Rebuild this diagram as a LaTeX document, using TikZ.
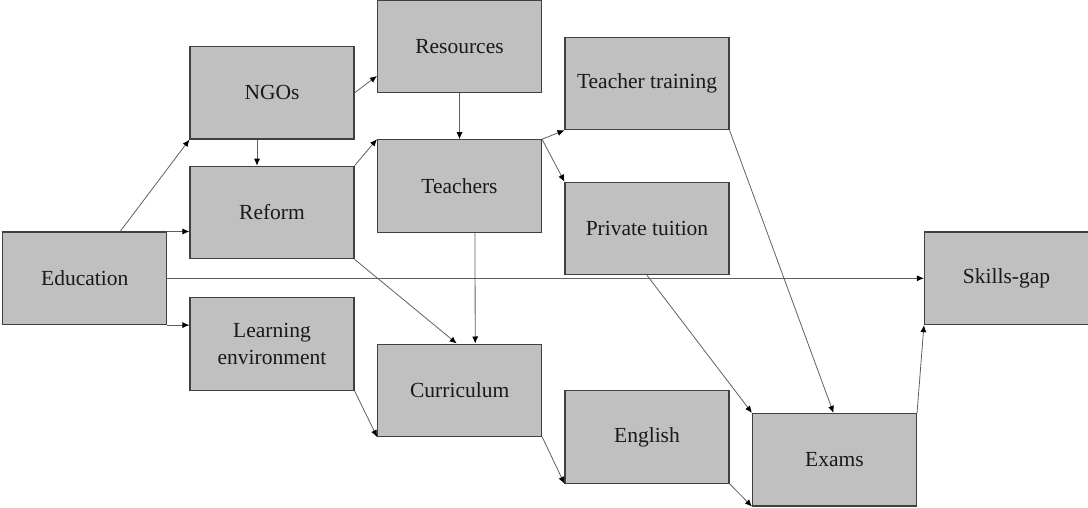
\documentclass[tikz,border=0pt]{standalone}
\usepackage{fontspec}
\setmainfont{Liberation Serif}
\usetikzlibrary{arrows.meta}
\definecolor{boxfill}{HTML}{C0C0C0}
\definecolor{boxline}{HTML}{404040}
\definecolor{conn}{HTML}{606060}
\begin{document}
\begin{tikzpicture}[x=1pt,y=-1pt,
  box/.style={draw=boxline, line width=1.1pt, fill=boxfill, minimum width=164pt, minimum height=92.5pt,
    inner sep=2pt, align=center, text=black!90, font=\fontsize{21.5}{27}\selectfont},
  conn/.style={draw=conn, line width=0.8pt, -{Latex[length=7pt,width=6pt,black]}}]
\useasboundingbox (0,0) rectangle (1088,508);
\node[box] (edu) at (84.7,278.3) {Education};
\node[box] (ngo) at (272,92.8) {NGOs};
\node[box] (reform) at (272,212.5) {Reform};
\node[box] (learn) at (272,344) {Learning\\environment};
\node[box] (res) at (459.5,46.5) {Resources};
\node[box] (teach) at (459.5,186) {Teachers};
\node[box] (curr) at (459.7,390.3) {Curriculum};
\node[box] (tt) at (647,83.5) {Teacher training};
\node[box] (pt) at (647,228.5) {Private tuition};
\node[box] (eng) at (647,437) {English};
\node[box] (exams) at (834.5,459.7) {Exams};
\node[box] (skills) at (1006.5,278.3) {Skills-gap};

\draw[conn] ([xshift=118pt]edu.north west) -- (ngo.south west);
\draw[conn] (edu.north east) -- (reform.west |- edu.north east);
\draw[conn] (edu.south east) -- (learn.west |- edu.south east);
\draw[conn] (edu.east) -- (skills.west);
\draw[conn] ([xshift=-15pt]ngo.south) -- ([xshift=-15pt]reform.north);
\draw[conn] (ngo.east) -- ([yshift=-29.5pt]res.west);
\draw[conn] (reform.north east) -- (teach.north west);
\draw[conn] (reform.south east) -- ([xshift=-3pt]curr.north);
\draw[conn] (learn.south east) -- (curr.south west);
\draw[conn] (res.south) -- (teach.north);
\draw[conn] ([xshift=15.5pt]teach.south) -- ([xshift=15.5pt]curr.north);
\draw[conn] (teach.north east) -- (tt.south west);
\draw[conn] (teach.north east) -- (pt.north west);
\draw[conn] (pt.south) -- (exams.north west);
\draw[conn] (tt.south east) -- ([xshift=-1pt]exams.north);
\draw[conn] (curr.south east) -- (eng.south west);
\draw[conn] (eng.south east) -- (exams.south west);
\draw[conn] (exams.north east) -- (skills.south west);
\end{tikzpicture}
\end{document}
